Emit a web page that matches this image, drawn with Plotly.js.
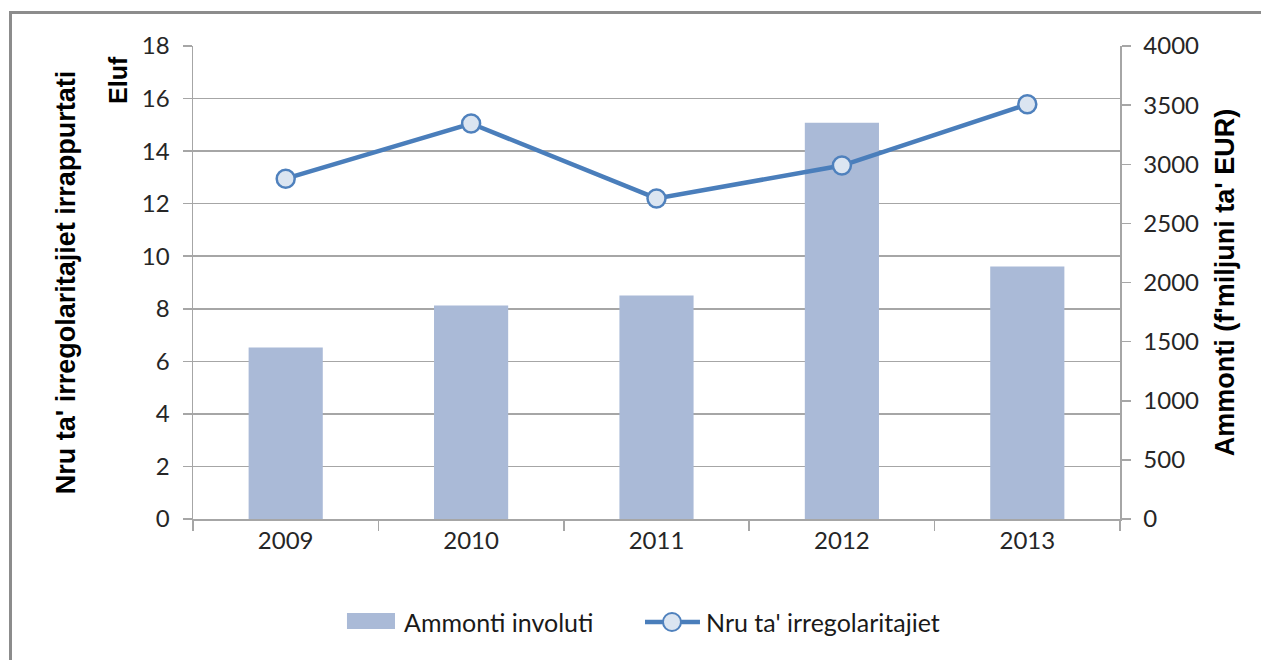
<!DOCTYPE html>
<html>
<head>
<meta charset="utf-8">
<script src="https://cdn.plot.ly/plotly-3.0.1.min.js"></script>
<style>
  html, body { margin: 0; padding: 0; background: #ffffff; overflow: hidden; }
  #wrap { position: relative; width: 1261px; height: 660px; overflow: hidden; }
  #frame { position: absolute; left: 9px; top: 11px; width: 1400px; height: 800px;
           border-left: 3px solid #8c8c8c; border-top: 3px solid #8c8c8c; pointer-events: none; }
  #chart { position: absolute; left: 0; top: 0; width: 1261px; height: 660px; }
</style>
</head>
<body>
<div id="wrap">
  <div id="chart"></div>
  <div id="frame"></div>
</div>
<script>
// Data
const years = ["2009", "2010", "2011", "2012", "2013"];
const amounts = [1450, 1805, 1890, 3350, 2135];          // Ammonti involuti (right axis, million EUR)
const irregularities = [12.95, 15.05, 12.2, 13.45, 15.78]; // Nru ta' irregolaritajiet (left axis, thousands)

const leftTicks = [0, 2, 4, 6, 8, 10, 12, 14, 16, 18];
const rightTicks = [0, 500, 1000, 1500, 2000, 2500, 3000, 3500, 4000];

const seriesNames = ["Ammonti involuti", "Nru ta' irregolaritajiet"];

const FONT = "Lato, 'Liberation Sans', sans-serif";
const TFONT = "'Liberation Sans', Arial, sans-serif";
const GRID = "#a6a6a6";
const BAR = "#aabad7";
const LINE = "#4a7ebb";
const MFILL = "#dbe5f1";

const traces = [
  {
    type: "bar",
    name: seriesNames[0],
    x: years,
    y: amounts,
    yaxis: "y",
    marker: { color: BAR, line: { width: 0 } },
    width: 0.4
  },
  {
    type: "scatter",
    mode: "lines+markers",
    name: seriesNames[1],
    x: years,
    y: irregularities,
    yaxis: "y2",
    line: { color: LINE, width: 4.5 },
    marker: { symbol: "circle", size: 18, color: MFILL, line: { color: "#4f81bd", width: 2.5 } }
  }
];

const titleFont = { family: TFONT, size: 27, color: "#000000", weight: "bold" };
const elufFont = { family: TFONT, size: 25, color: "#000000", weight: "bold" };
const legFont = { family: FONT, size: 25, color: "#1a1a1a" };

const layout = {
  width: 1261,
  height: 660,
  margin: { l: 193, r: 141, t: 46, b: 141 },
  paper_bgcolor: "#ffffff",
  plot_bgcolor: "#ffffff",
  font: { family: FONT, size: 24, color: "#262626" },
  showlegend: false,
  xaxis: {
    type: "category",
    showline: true, linecolor: GRID, linewidth: 1.5,
    ticks: "outside", tickson: "boundaries", ticklen: 10, tickcolor: GRID, tickwidth: 1.5,
    showgrid: false,
    tickfont: { family: FONT, size: 24, color: "#262626" }
  },
  yaxis: {
    side: "right",
    range: [0, 4000],
    tickvals: rightTicks,
    ticktext: rightTicks.map(String),
    showgrid: false, zeroline: false,
    showline: true, linecolor: GRID, linewidth: 1.5,
    ticks: "outside", ticklen: 9, tickcolor: GRID, tickwidth: 1.5,
    ticklabelstandoff: 8,
    tickfont: { family: FONT, size: 24, color: "#262626" },
    title: { text: "Ammonti (f'miljuni ta' EUR)", font: titleFont, standoff: 17 }
  },
  yaxis2: {
    side: "left",
    overlaying: "y",
    range: [0, 18],
    tickvals: leftTicks,
    ticktext: leftTicks.map(String),
    showgrid: true, gridcolor: GRID, gridwidth: 1.5,
    zeroline: false,
    showline: true, linecolor: GRID, linewidth: 1.5,
    ticks: "outside", ticklen: 9, tickcolor: GRID, tickwidth: 1.5,
    ticklabelstandoff: 8,
    tickfont: { family: FONT, size: 24, color: "#262626" },
    title: { text: "Nru ta' irregolaritajiet irrappurtati", font: titleFont, standoff: 58 }
  },
  annotations: [
    {
      text: "Eluf",
      xref: "paper", yref: "paper",
      x: -0.081, y: 0.928,
      xanchor: "center", yanchor: "middle",
      textangle: -90,
      showarrow: false,
      font: elufFont
    },
    // legend texts
    {
      text: seriesNames[0],
      xref: "paper", yref: "paper",
      x: 0.2255, y: -0.2178, xanchor: "left", yanchor: "middle",
      showarrow: false, font: legFont
    },
    {
      text: seriesNames[1],
      xref: "paper", yref: "paper",
      x: 0.5515, y: -0.2178, xanchor: "left", yanchor: "middle",
      showarrow: false, font: legFont
    }
  ],
  shapes: [
    // legend: bar swatch
    {
      type: "rect", xref: "paper", yref: "paper",
      x0: 0.1661, x1: 0.2179, y0: -0.2326, y1: -0.1987,
      line: { width: 0 }, fillcolor: BAR
    },
    // legend: line sample
    {
      type: "line", xref: "paper", yref: "paper",
      x0: 0.4876, x1: 0.5469, y0: -0.2178, y1: -0.2178,
      line: { color: LINE, width: 4.5 }
    },
    // legend: marker sample
    {
      type: "circle", xref: "paper", yref: "paper",
      xsizemode: "pixel", ysizemode: "pixel",
      xanchor: 0.5167, yanchor: -0.2178,
      x0: -9, x1: 9, y0: -9, y1: 9,
      line: { color: "#4f81bd", width: 2 }, fillcolor: MFILL
    }
  ]
};

Plotly.newPlot("chart", traces, layout, { displayModeBar: false, staticPlot: true });
</script>
</body>
</html>
